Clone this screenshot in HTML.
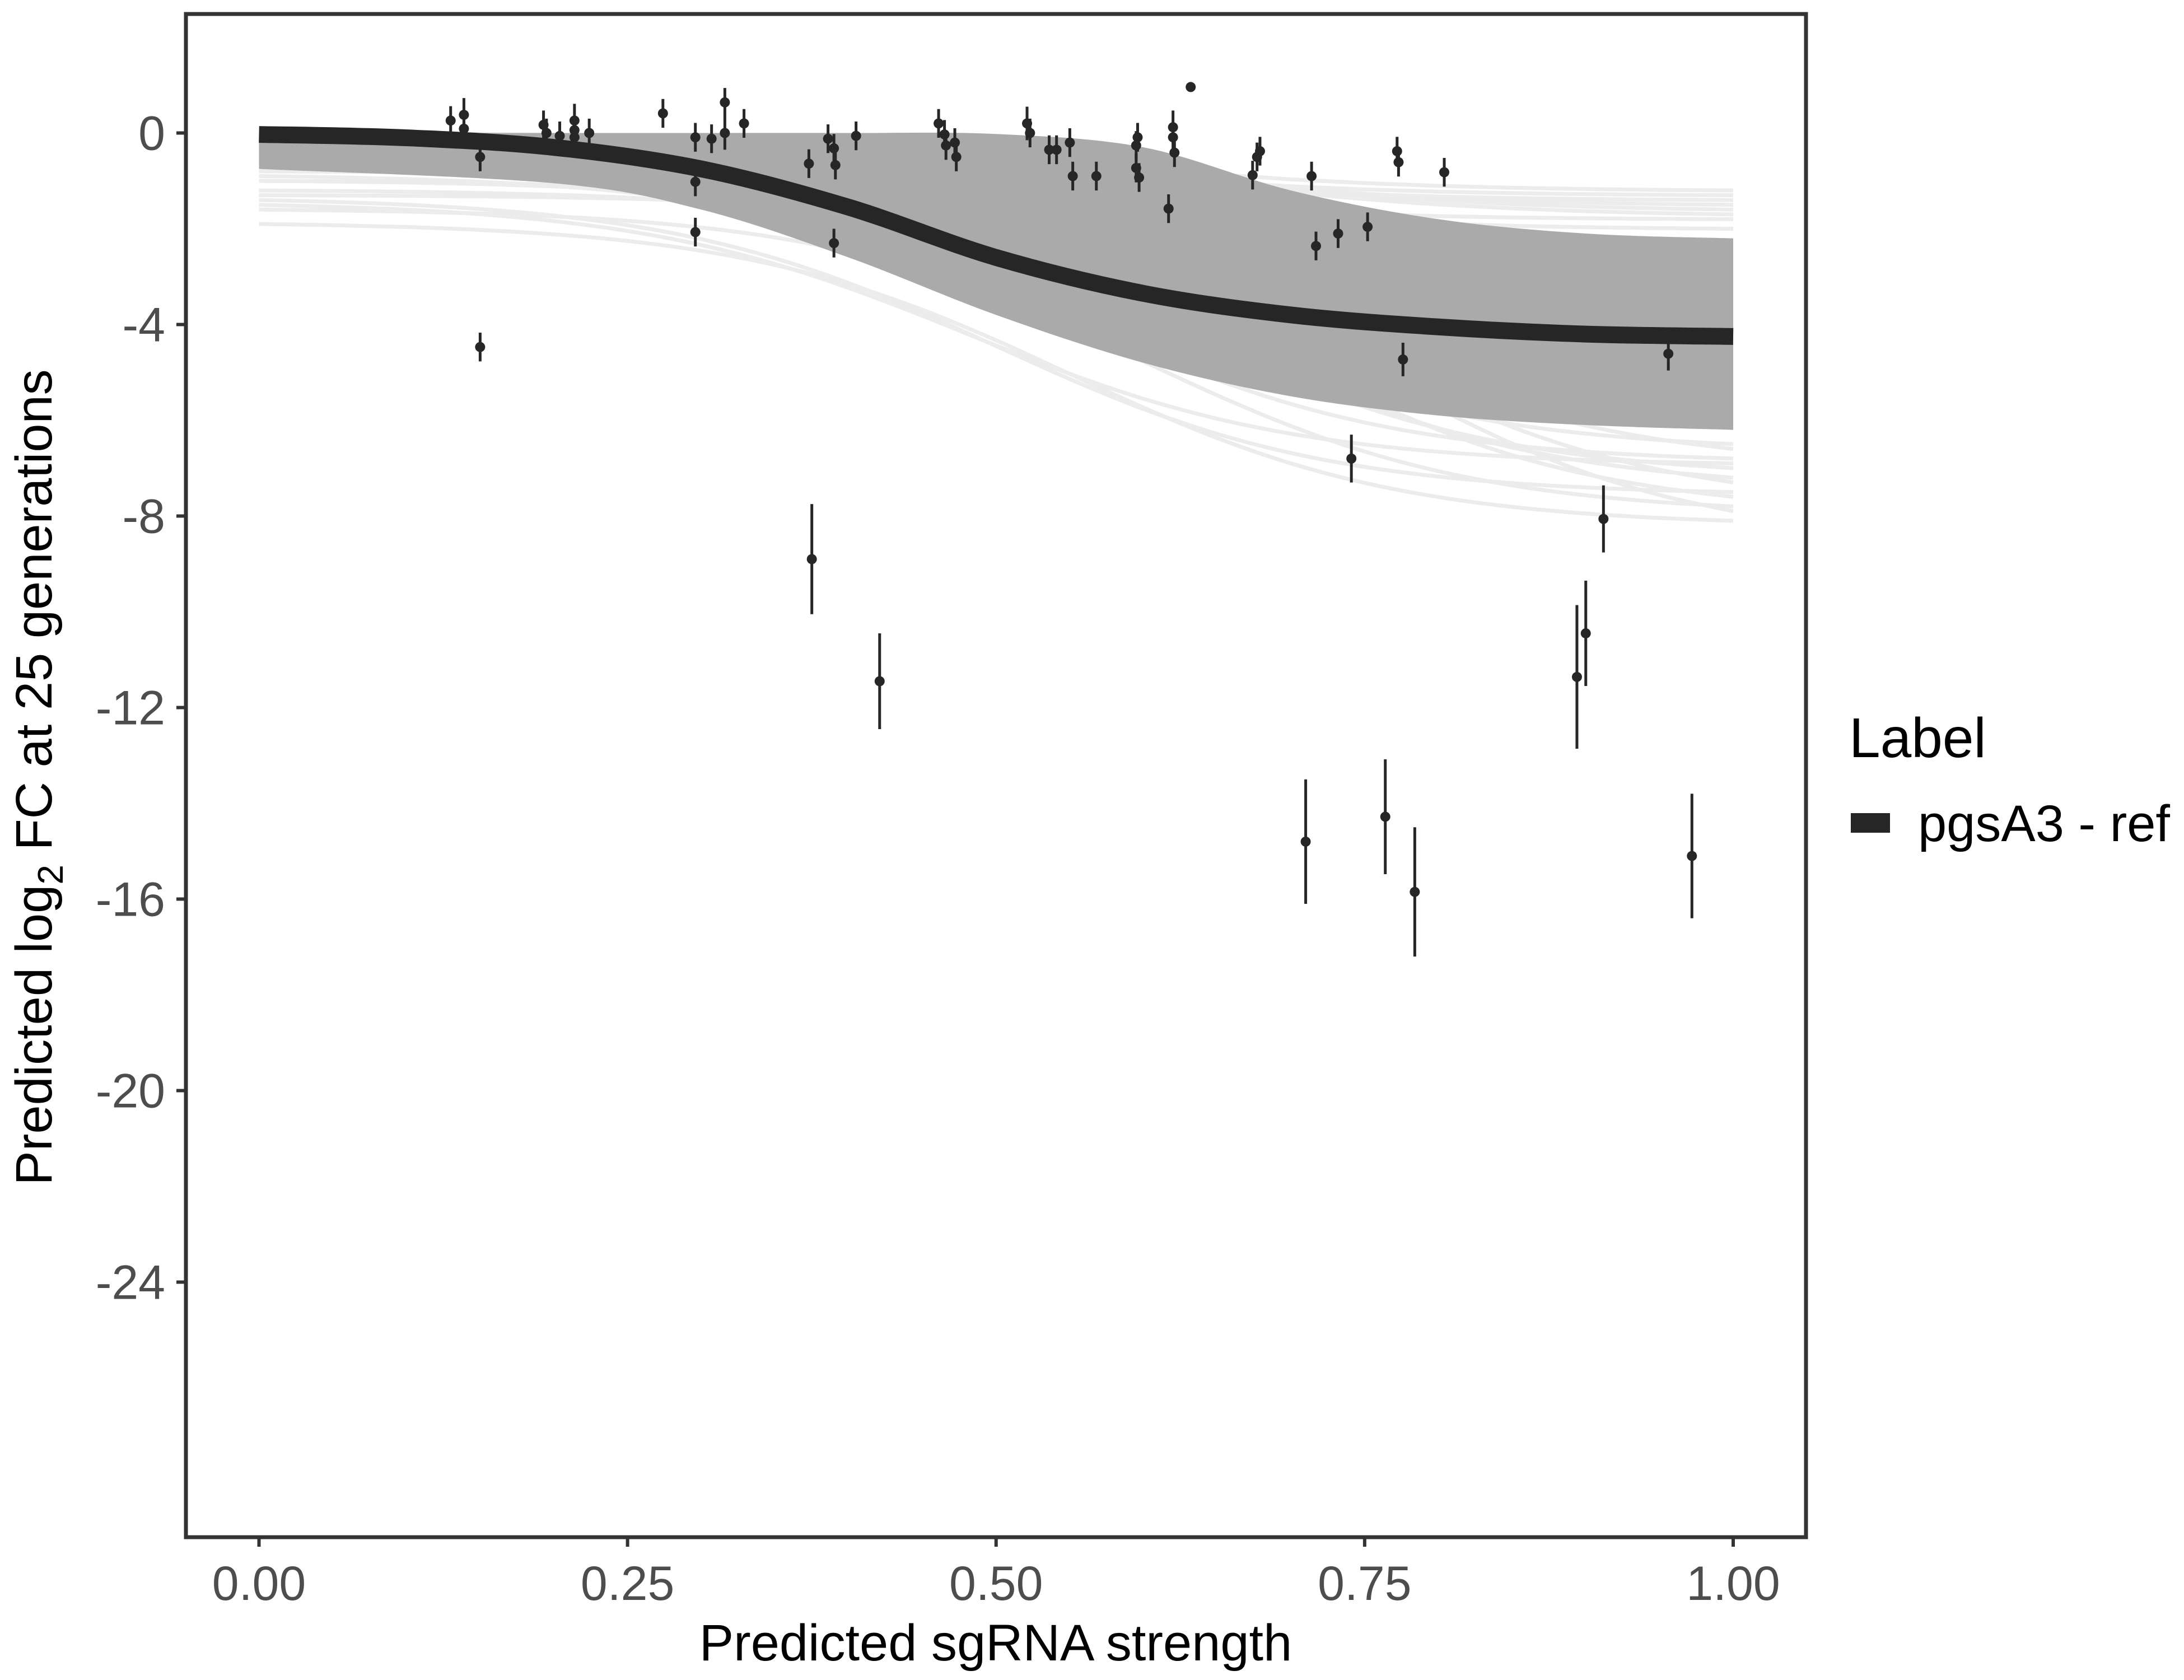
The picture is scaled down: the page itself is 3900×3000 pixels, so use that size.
<!DOCTYPE html>
<html><head><meta charset="utf-8"><style>
html,body{margin:0;padding:0;background:#fff;}
svg{display:block;font-family:"Liberation Sans",sans-serif;}
</style></head><body>
<svg id="chart" width="3900" height="3000" viewBox="0 0 3900 3000">
<rect width="3900" height="3000" fill="#fff"/>
<defs><clipPath id="pc"><rect x="335" y="28" width="2887" height="2714"/></clipPath></defs>
<g id="plot" clip-path="url(#pc)"></g>
<rect x="332" y="25" width="2893" height="2720" fill="none" stroke="#333" stroke-width="7"/>
<g id="axes"></g>
<text x="1778" y="2965" font-size="92" text-anchor="middle" fill="#000">Predicted sgRNA strength</text>
<text transform="translate(92,1388) rotate(-90)" font-size="92" text-anchor="middle" fill="#000">Predicted  log<tspan font-size="64" dy="20">2</tspan><tspan dy="-20"> FC at 25 generations</tspan></text>
<text x="3302" y="1352" font-size="100" fill="#000">Label</text>
<rect x="3305" y="1452" width="70" height="35" fill="#262626"/>
<text x="3425" y="1502" font-size="92" fill="#000">pgsA3 - ref</text>
</svg>
<script>
const xTicks=[0,0.25,0.5,0.75,1];
const xTickLabels=["0.00","0.25","0.50","0.75","1.00"];
const yTicks=[0,-4,-8,-12,-16,-20,-24];
const yTickLabels=["0","-4","-8","-12","-16","-20","-24"];
const meanX=[0,0.1,0.2,0.3,0.4,0.5,0.6,0.7,0.8,0.9,1.0];
const meanY=[-0.03,-0.1,-0.3,-0.75,-1.55,-2.6,-3.35,-3.8,-4.05,-4.2,-4.25];
const bandX=[0,0.2,0.3,0.4,0.5,0.6,0.7,0.8,0.9,1.0];
const bandTop=[0,0,0,0,-0.02,-0.3,-1.2,-1.8,-2.1,-2.2];
const bandBot=[-0.75,-1.05,-1.6,-2.6,-3.8,-4.8,-5.5,-5.9,-6.1,-6.2];
const lightStart=[-1.9,-1.6,-1.4,-1.2,-1.0,-0.9,-0.8,-0.6,0,0,0,0,0,-0.05,-0.1,-0.2,-1.0,-0.7,-1.5,-1.3];
const lightEnd=[-8.1,-7.8,-7.5,-7.2,-7.0,-6.8,-6.6,-6.5,-1.2,-1.4,-1.6,-1.8,-2.0,-1.5,-1.3,-1.7,-7.6,-7.3,-6.9,-7.9];
const lightMid=[0.55,0.6,0.5,0.65,0.62,0.55,0.7,0.6,0.55,0.5,0.6,0.45,0.5,0.58,0.52,0.62,0.68,0.72,0.48,0.75];
const ptX=[0.130,0.139,0.139,0.150,0.150,0.193,0.195,0.204,0.214,0.214,0.214,0.224,0.274,0.296,0.296,0.296,0.307,0.316,0.316,0.329,0.373,0.375,0.386,0.390,0.391,0.390,0.405,0.421,0.461,0.465,0.466,0.472,0.473,0.521,0.523,0.536,0.541,0.550,0.552,0.568,0.595,0.596,0.595,0.597,0.617,0.620,0.620,0.621,0.632,0.674,0.677,0.679,0.710,0.714,0.717,0.732,0.741,0.752,0.764,0.772,0.773,0.776,0.784,0.804,0.894,0.900,0.912,0.956,0.972];
const ptY=[0.26,0.38,0.09,-0.5,-4.47,0.17,0,-0.06,0.26,0.06,-0.09,0,0.41,-0.09,-1.02,-2.07,-0.12,0.64,0,0.2,-0.64,-8.9,-0.12,-0.32,-0.67,-2.3,-0.06,-11.45,0.2,-0.03,-0.26,-0.2,-0.5,0.2,0,-0.35,-0.35,-0.2,-0.9,-0.9,-0.26,-0.09,-0.73,-0.93,-1.58,0.12,-0.09,-0.41,0.96,-0.88,-0.5,-0.38,-14.8,-0.9,-2.36,-2.1,-6.8,-1.96,-14.28,-0.38,-0.61,-4.73,-15.85,-0.82,-11.36,-10.45,-8.06,-4.61,-15.1];
const ptErr=[0.3,0.35,0.3,0.3,0.3,0.3,0.3,0.3,0.35,0.3,0.3,0.3,0.3,0.3,0.3,0.3,0.3,0.3,0.35,0.3,0.3,1.15,0.3,0.3,0.3,0.3,0.3,1.0,0.3,0.3,0.3,0.3,0.3,0.35,0.3,0.3,0.3,0.3,0.3,0.3,0.3,0.3,0.3,0.3,0.3,0.35,0.3,0.3,0.05,0.3,0.3,0.3,1.3,0.3,0.3,0.3,0.5,0.3,1.2,0.3,0.3,0.35,1.35,0.3,1.5,1.1,0.7,0.35,1.3];

const NS='http://www.w3.org/2000/svg';
const X=s=>462.5+s*2632.5, Y=v=>237.5-v*85.5;
function mk(tag,attrs,parent){const e=document.createElementNS(NS,tag);for(const k in attrs)e.setAttribute(k,attrs[k]);parent.appendChild(e);return e;}
function smooth(xs,ys){let d='M'+X(xs[0])+','+Y(ys[0]);const n=xs.length;
 for(let i=0;i<n-1;i++){const p0=[X(xs[Math.max(i-1,0)]),Y(ys[Math.max(i-1,0)])],p1=[X(xs[i]),Y(ys[i])],p2=[X(xs[i+1]),Y(ys[i+1])],p3=[X(xs[Math.min(i+2,n-1)]),Y(ys[Math.min(i+2,n-1)])];
 d+=' C'+(p1[0]+(p2[0]-p0[0])/6)+','+(p1[1]+(p2[1]-p0[1])/6)+' '+(p2[0]-(p3[0]-p1[0])/6)+','+(p2[1]-(p3[1]-p1[1])/6)+' '+p2[0]+','+p2[1];}
 return d;}
const plot=document.getElementById('plot');
for(let i=0;i<lightStart.length;i++){
 const xs=[],ys=[];const m=lightMid[i];const t0=1/(1+Math.exp(9*m)),t1=1/(1+Math.exp(-9*(1-m)));
 for(let k=0;k<=20;k++){const s=k/20;xs.push(s);const t=1/(1+Math.exp(-9*(s-m)));ys.push(lightStart[i]+(lightEnd[i]-lightStart[i])*(t-t0)/(t1-t0));}
 const p=mk('path',{d:smooth(xs,ys),fill:'none',stroke:'#ececec','stroke-width':7},plot);
 
 
}
{let d=smooth(bandX,bandTop);const rx=bandX.slice().reverse(),ry=bandBot.slice().reverse();d+=' L'+X(rx[0])+','+Y(ry[0])+smooth(rx,ry).replace(/^M[^C]*/,' ')+' Z';
 const b=mk('path',{d:d,fill:'#aaaaaa',stroke:'none'},plot);
 
 }
{const m=mk('path',{d:smooth(meanX,meanY),fill:'none',stroke:'#262626','stroke-width':30},plot);
 
 }
for(let i=0;i<ptX.length;i++){
 const g=mk('g',{},plot);
 
 
 mk('line',{x1:X(ptX[i]),x2:X(ptX[i]),y1:Y(ptY[i]+ptErr[i]),y2:Y(ptY[i]-ptErr[i]),stroke:'#262626','stroke-width':5},g);
 mk('circle',{cx:X(ptX[i]),cy:Y(ptY[i]),r:9,fill:'#262626'},g);
}
const ax=document.getElementById('axes');
for(let i=0;i<xTicks.length;i++){
 const t=mk('line',{x1:X(xTicks[i]),x2:X(xTicks[i]),y1:2745,y2:2762,stroke:'#333','stroke-width':6},ax);
 
 
 const l=mk('text',{x:X(xTicks[i]),y:2857,'font-size':86,'text-anchor':'middle',fill:'#4d4d4d'},ax);l.textContent=xTickLabels[i];
 
 
}
for(let i=0;i<yTicks.length;i++){
 const t=mk('line',{x1:315,x2:332,y1:Y(yTicks[i]),y2:Y(yTicks[i]),stroke:'#333','stroke-width':6},ax);
 
 
 const l=mk('text',{x:295,y:Y(yTicks[i])+30,'font-size':86,'text-anchor':'end',fill:'#4d4d4d'},ax);l.textContent=yTickLabels[i];
 
 
}
</script>
</body></html>
